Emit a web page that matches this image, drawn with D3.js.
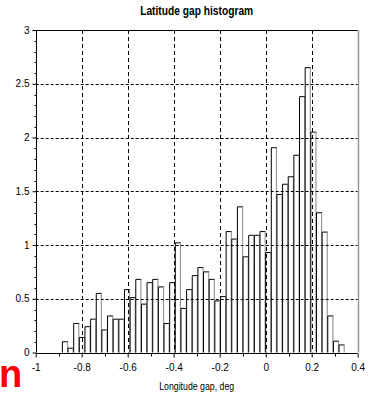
<!DOCTYPE html>
<html>
<head>
<meta charset="utf-8">
<script src="https://cdn.jsdelivr.net/npm/d3@7"></script>
<style>
  html, body { margin: 0; padding: 0; background: #fff; }
  svg { display: block; }
  text { font-family: "Liberation Sans Narrow", "Liberation Sans", Arial, sans-serif; }
</style>
</head>
<body>
<svg id="chart" width="370" height="394"></svg>
<script>
// Histogram range (deg) and number of bins
const binLo = -0.884;
const binHi = 0.3435;
// Normalised frequency of each bin, left to right
const density = [
  0.10, 0.04, 0.27, 0.14, 0.24, 0.31, 0.55, 0.21, 0.34, 0.31,
  0.31, 0.585, 0.51, 0.68, 0.45, 0.65, 0.68, 0.61, 0.27, 0.65,
  1.02, 0.41, 0.585, 0.715, 0.79, 0.75, 0.68, 0.48, 0.52, 1.125,
  1.055, 1.355, 0.89, 1.09, 1.09, 1.125, 0.93, 1.905, 1.47, 1.565,
  1.635, 1.835, 2.38, 2.65, 2.05, 1.30, 1.12, 0.34, 0.105, 0.07
];
const xTicks = [-1, -0.8, -0.6, -0.4, -0.2, 0, 0.2, 0.4];
const xMinorTicks = [-0.9, -0.7, -0.5, -0.3, -0.1, 0.1, 0.3];
const yTicks = [0, 0.5, 1, 1.5, 2, 2.5, 3];
const yMinorTicks = d3.range(0, 31).map(i => i / 10).filter(v => Math.round(v * 10) % 5 !== 0);
const titleText = "Latitude gap histogram";
const xLabel = "Longitude gap, deg";

const svg = d3.select("#chart");
const x = d3.scaleLinear().domain([-1, 0.4]).range([35.7, 357.7]);
const y = d3.scaleLinear().domain([0, 3]).range([352.5, 30]);

// tick labels with a plain hyphen for negatives
const fmt = d => String(+d.toFixed(2));

const w = (binHi - binLo) / density.length;
const bins = density.map((v, i) => ({ x0: binLo + i * w, x1: binLo + (i + 1) * w, v }));

// bars: white fill, dark left/top edges, grey right edge
const bar = svg.append("g").selectAll("g").data(bins).join("g");
bar.append("rect")
  .attr("x", d => x(d.x0)).attr("y", d => y(d.v))
  .attr("width", d => x(d.x1) - x(d.x0)).attr("height", d => y(0) - y(d.v))
  .attr("fill", "#fff");
bar.append("path")
  .attr("d", d => `M${x(d.x0)},${y(0)}V${y(d.v)}H${x(d.x1)}`)
  .attr("fill", "none").attr("stroke", "#000").attr("stroke-width", 1);
bar.append("line")
  .attr("x1", d => x(d.x1) - 0.5).attr("x2", d => x(d.x1) - 0.5)
  .attr("y1", d => y(d.v)).attr("y2", y(0))
  .attr("stroke", "#999").attr("stroke-width", 1.2);

// dashed grid on top of the bars
const grid = svg.append("g").attr("stroke", "#000").attr("stroke-width", 1);
grid.selectAll("line.h").data(yTicks.slice(1, -1)).join("line")
  .attr("x1", x(-1)).attr("x2", x(0.4))
  .attr("y1", d => Math.round(y(d)) + 0.5).attr("y2", d => Math.round(y(d)) + 0.5)
  .attr("stroke-dasharray", "3,2");
grid.selectAll("line.v").data(xTicks.slice(1, -1)).join("line")
  .attr("x1", d => Math.round(x(d)) + 0.5).attr("x2", d => Math.round(x(d)) + 0.5)
  .attr("y1", y(3)).attr("y2", y(0))
  .attr("stroke-dasharray", "4,3");

// frame: top and right edges
svg.append("line").attr("x1", x(-1)).attr("x2", x(0.4))
  .attr("y1", Math.round(y(3)) + 0.5).attr("y2", Math.round(y(3)) + 0.5)
  .attr("stroke", "#000");
svg.append("line").attr("x1", Math.round(x(0.4)) + 0.5).attr("x2", Math.round(x(0.4)) + 0.5)
  .attr("y1", y(3)).attr("y2", y(0))
  .attr("stroke", "#999").attr("stroke-width", 1.5);

// axes
const axisFont = g => g.selectAll("text")
  .attr("font-family", "\"Liberation Sans Narrow\", \"Liberation Sans\", Arial, sans-serif")
  .attr("font-size", 10).attr("fill", "#000");

const yAxis = svg.append("g").attr("transform", `translate(${Math.round(x(-1)) + 0.5},0)`)
  .call(d3.axisLeft(y).tickValues(yTicks).tickFormat(fmt).tickSize(4).tickPadding(3));
yAxis.call(axisFont);
yAxis.selectAll("path, line").attr("stroke", "#000");
yAxis.select(".domain").attr("d", `M0,${y(3)}V${y(0)}`);
yAxis.append("g").selectAll("line").data(yMinorTicks).join("line")
  .attr("x1", -2).attr("x2", 0)
  .attr("y1", d => Math.round(y(d)) + 0.5).attr("y2", d => Math.round(y(d)) + 0.5)
  .attr("stroke", "#000");

const xAxis = svg.append("g").attr("transform", `translate(0,${Math.round(y(0)) + 0.5})`)
  .call(d3.axisBottom(x).tickValues(xTicks).tickFormat(fmt).tickSize(4).tickPadding(6));
xAxis.call(axisFont);
xAxis.selectAll("path, line").attr("stroke", "#000");
xAxis.select(".domain").attr("d", `M${x(-1)},0H${x(0.4)}`);
xAxis.append("g").selectAll("line").data(xMinorTicks).join("line")
  .attr("x1", d => Math.round(x(d)) + 0.5).attr("x2", d => Math.round(x(d)) + 0.5)
  .attr("y1", 0).attr("y2", 3)
  .attr("stroke", "#000");

// titles
svg.append("text")
  .attr("x", (x(-1) + x(0.4)) / 2).attr("y", 14.5)
  .attr("text-anchor", "middle").attr("font-weight", "bold").attr("font-size", 12.5)
  .attr("textLength", 113).attr("lengthAdjust", "spacingAndGlyphs")
  .text(titleText);
svg.append("text")
  .attr("x", (x(-1) + x(0.4)) / 2).attr("y", 390)
  .attr("text-anchor", "middle").attr("font-size", 10.5)
  .attr("textLength", 75).attr("lengthAdjust", "spacingAndGlyphs")
  .text(xLabel);

svg.append("text")
  .attr("x", -1).attr("y", 387)
  .attr("font-family", "\"Liberation Sans\", Arial, sans-serif")
  .attr("font-weight", "bold").attr("font-size", 38).attr("fill", "#ff0000")
  .text("n");
</script>
</body>
</html>
